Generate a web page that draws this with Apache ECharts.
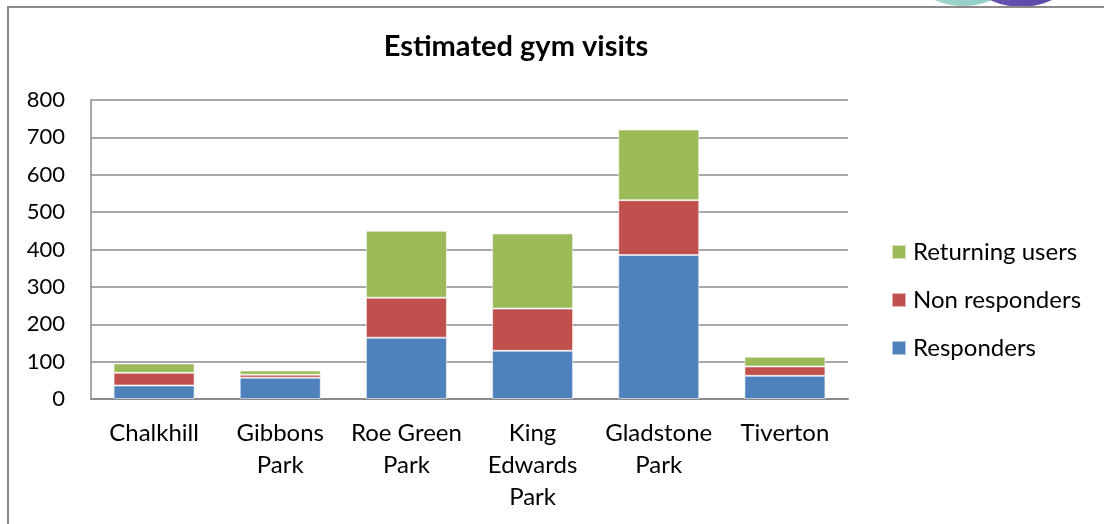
<!DOCTYPE html>
<html>
<head>
<meta charset="utf-8">
<title>Estimated gym visits</title>
<script src="https://cdn.jsdelivr.net/npm/echarts@6/dist/echarts.min.js"></script>
<style>
  html, body { margin: 0; padding: 0; background: #ffffff; }
  #chart { width: 1104px; height: 524px; }
</style>
</head>
<body>
<div id="chart"></div>
<script>
// Sites and their wrapped axis labels
const categories = ["Chalkhill", "Gibbons Park", "Roe Green Park", "King Edwards Park", "Gladstone Park", "Tiverton"];
const categoryLabels = ["Chalkhill", "Gibbons\nPark", "Roe Green\nPark", "King\nEdwards\nPark", "Gladstone\nPark", "Tiverton"];

// Visit estimates per site, stacked bottom to top
const responders     = [36, 57, 164, 129, 385, 62];
const nonResponders  = [34, 8, 107, 113, 147, 25];
const returningUsers = [25, 11, 179, 201, 189, 26];

const yTicks = { min: 0, max: 800, interval: 100 };

const FONT = "Lato, 'Open Sans', sans-serif";
const chart = echarts.init(document.getElementById('chart'), null, { renderer: 'canvas' });

const barStyle = (color) => ({
  color: color,
  borderColor: 'rgba(255,255,255,0.55)',
  borderWidth: 1
});

chart.setOption({
  animation: false,
  backgroundColor: '#ffffff',
  graphic: [
    // decorative circles peeking in at the top edge
    {
      type: 'circle', z: 0,
      shape: { cx: 963, cy: -64, r: 70 },
      style: {
        fill: new echarts.graphic.LinearGradient(0, 0, 1, 0, [
          { offset: 0, color: '#a9dcc9' },
          { offset: 1, color: '#86c6c8' }
        ])
      }
    },
    {
      type: 'circle', z: 1,
      shape: { cx: 1021, cy: -65, r: 72 },
      style: {
        fill: new echarts.graphic.LinearGradient(0, 0, 1, 0, [
          { offset: 0, color: '#6a55b4' },
          { offset: 1, color: '#5a45a8' }
        ])
      }
    },
    // chart frame
    {
      type: 'rect', z: 2,
      shape: { x: 8, y: 7, width: 1120, height: 540 },
      style: { fill: 'none', stroke: '#8a8a8a', lineWidth: 2 }
    }
  ],
  title: {
    text: 'Estimated gym visits',
    left: 511,
    textAlign: 'center',
    top: 27,
    textStyle: { fontFamily: FONT, fontWeight: 'bold', fontSize: 29, color: '#000' }
  },
  legend: {
    orient: 'vertical',
    left: 891,
    top: 240,
    padding: 0,
    itemWidth: 14,
    itemHeight: 14,
    itemGap: 24,
    icon: 'rect',
    data: ['Returning users', 'Non responders', 'Responders'],
    textStyle: { fontFamily: FONT, fontSize: 24, lineHeight: 24, color: '#000', padding: [0, 0, 0, 2] }
  },
  grid: { left: 91, right: 256, top: 100, bottom: 125, containLabel: false },
  xAxis: {
    type: 'category',
    data: categories,
    axisLine: { show: true, lineStyle: { color: '#8a8a8a', width: 2 } },
    axisTick: { show: false },
    axisLabel: {
      interval: 0,
      margin: 18,
      fontFamily: FONT,
      fontSize: 24,
      lineHeight: 32,
      color: '#000',
      formatter: (v, i) => categoryLabels[i]
    }
  },
  yAxis: {
    type: 'value',
    min: yTicks.min,
    max: yTicks.max,
    interval: yTicks.interval,
    axisLine: { show: true, lineStyle: { color: '#8a8a8a', width: 1.5 } },
    axisTick: { show: false },
    splitLine: { show: true, lineStyle: { color: '#8c8c8c', width: 1.5 } },
    axisLabel: { margin: 26, fontFamily: FONT, fontSize: 22, color: '#000' }
  },
  series: [
    { name: 'Responders', type: 'bar', stack: 'visits', barWidth: 81, data: responders, itemStyle: barStyle('#4F81BD') },
    { name: 'Non responders', type: 'bar', stack: 'visits', barWidth: 81, data: nonResponders, itemStyle: barStyle('#C0504D') },
    { name: 'Returning users', type: 'bar', stack: 'visits', barWidth: 81, data: returningUsers, itemStyle: barStyle('#9BBB59') }
  ]
});
</script>
</body>
</html>
